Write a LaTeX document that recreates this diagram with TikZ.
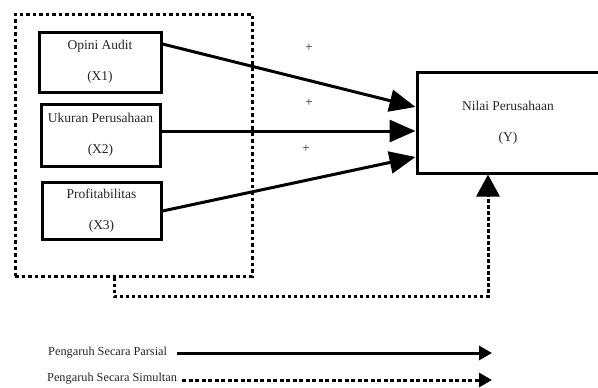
\documentclass[tikz,border=0pt]{standalone}
\usepackage{fontspec}
\setmainfont{Liberation Serif}
\usetikzlibrary{arrows.meta}
\begin{document}
\begin{tikzpicture}[x=1pt,y=-1pt,
  varbox/.style={draw,line width=3pt,align=center,inner sep=0pt,font=\fontsize{13.5}{31}\selectfont,text=black!85},
  partial/.style={line width=3pt,-{Triangle[length=26pt,width=22pt]}},
  simul/.style={line width=3pt,dash pattern=on 3.5pt off 2.5pt,-{Triangle[length=22pt,width=23pt]}},
  grp/.style={draw,line width=3pt,dash pattern=on 3.5pt off 3pt,inner sep=0pt},
  plus/.style={font=\fontsize{13}{15}\selectfont,text=black!85},
  legtext/.style={font=\fontsize{12.3}{14}\selectfont,anchor=west,inner sep=0pt,text=black!85},
  legpart/.style={line width=3pt,-{Triangle[length=13pt,width=14pt]}},
  legsim/.style={line width=3pt,dash pattern=on 4pt off 2.5pt,-{Triangle[length=13pt,width=14pt]}}]
\useasboundingbox (0,0) rectangle (598,388);
\node[grp,minimum width=237pt,minimum height=262pt] (G) at (133.5,145) {};
\node[varbox,minimum width=122pt,minimum height=60pt] (X1) at (100,62) {Opini Audit\\(X1)};
\node[varbox,minimum width=119pt,minimum height=62pt] (X2) at (100.5,135) {Ukuran Perusahaan\\(X2)};
\node[varbox,minimum width=119pt,minimum height=57pt] (X3) at (101.5,210.5) {Profitabilitas\\(X3)};
\node[varbox,minimum width=182pt,minimum height=101pt] (Y) at (508,122.5) {Nilai Perusahaan\\(Y)};
\node[plus] (p1) at (309,48) {+};
\node[plus] (p2) at (309,103) {+};
\node[plus] (p3) at (306,149) {+};
\draw[partial] ([yshift=18pt]X1.east) -- ([yshift=15.5pt]Y.west);
\draw[partial] ([yshift=4pt]X2.east) -- ([yshift=-8.5pt]Y.west);
\draw[partial] ([yshift=-0.5pt]X3.east) -- ([yshift=-34.5pt]Y.west);
\coordinate (c1) at (114,296);
\coordinate (c2) at (488,296);
\draw[simul] (G.south -| c1) -- (c1) -- (c2) -- (Y.south -| c2);
\node[legtext] (L1) at (48,353) {Pengaruh Secara Parsial};
\node[legtext] (L2) at (47,379) {Pengaruh Secara Simultan};
\coordinate (e1) at (492,353);
\coordinate (e2) at (492,380);
\draw[legpart] ([xshift=10pt]L1.east) -- (e1);
\draw[legsim] ([xshift=5pt]L2.east |- e2) -- (e2);
\end{tikzpicture}
\end{document}
